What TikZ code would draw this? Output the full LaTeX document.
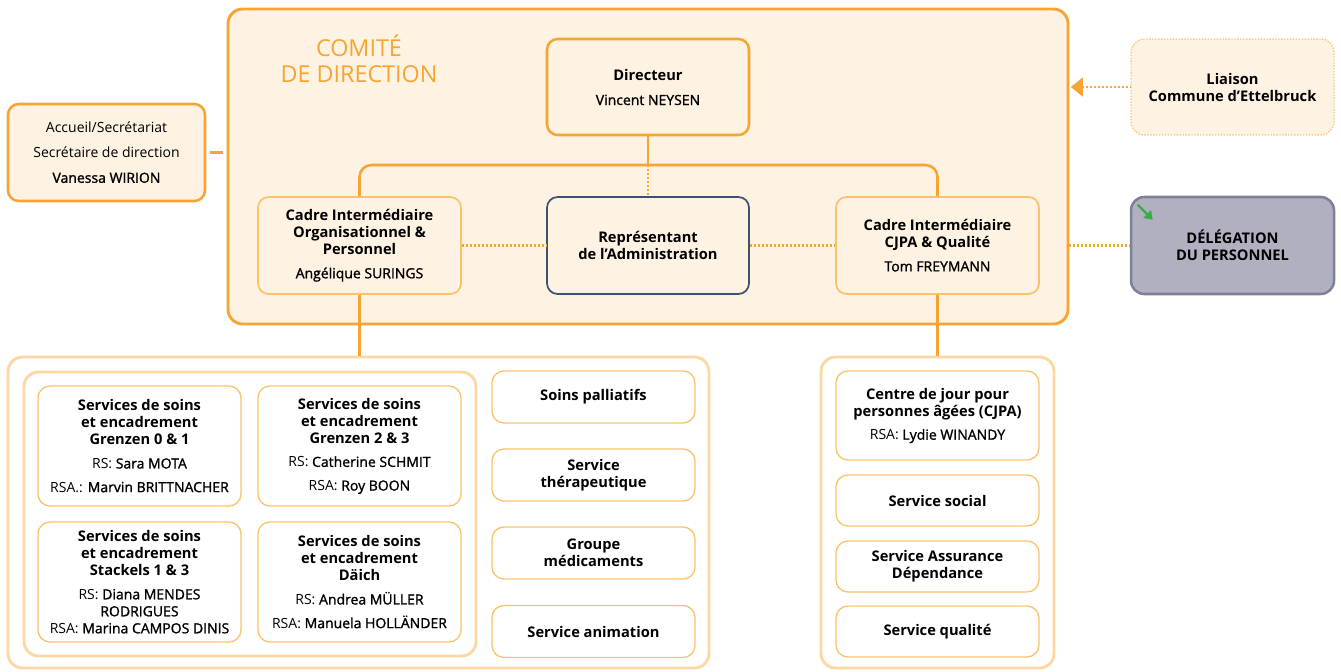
\documentclass[tikz,border=0pt]{standalone}
\usepackage{fontspec}
\setmainfont{Open Sans}
\newfontfamily\namefont{Open Sans}[FakeBold=1.3]
\usetikzlibrary{arrows.meta}

\definecolor{orgline}{HTML}{F7A532}
\definecolor{orgsoft}{HTML}{FBC26E}
\definecolor{orgpale}{HTML}{FDD8A4}
\definecolor{cream}{HTML}{FEF2E2}
\definecolor{slate}{HTML}{3F5172}
\definecolor{delegfill}{HTML}{B1B0C1}
\definecolor{delegline}{HTML}{7C8099}
\definecolor{arrowgreen}{HTML}{3BAA48}

\newcommand{\hd}[1]{{\fontsize{11}{12.75}\selectfont\bfseries #1}}

\tikzset{
  sz/.style 2 args={minimum width=#1*0.75pt,minimum height=#2*0.75pt},
  txt/.style={align=center,inner sep=0pt,text=black,font=\fontsize{10.5}{12.75}\selectfont},
  groupbox/.style={draw=orgline,line width=2.2pt,fill=cream,rounded corners=11pt},
  mainbox/.style={txt,draw=orgline,line width=1.9pt,fill=cream,rounded corners=8pt},
  cadrebox/.style={txt,draw=orgsoft,line width=1.3pt,fill=cream,rounded corners=8pt},
  repbox/.style={txt,draw=slate,line width=1.3pt,fill=cream,rounded corners=8pt},
  liaisonbox/.style={txt,draw=orgsoft,line width=1pt,dash pattern=on 1pt off 1.2pt,fill=cream,rounded corners=10pt},
  delegbox/.style={txt,draw=delegline,line width=1.9pt,fill=delegfill,rounded corners=10pt},
  outerbox/.style={draw=orgpale,line width=2.2pt,fill=white,rounded corners=11pt},
  servbox/.style={txt,draw=orgsoft,line width=1pt,fill=white,rounded corners=9pt},
  conn/.style={draw=orgline,line width=1.9pt},
  dotconn/.style={draw=orgline,line width=1.7pt,dash pattern=on 1.3pt off 1.7pt},
}

\begin{document}
\begin{tikzpicture}[x=0.75pt,y=-0.75pt]
            \useasboundingbox (0,0) rectangle (1341,671);

            \node[groupbox,sz={840}{315}] (comite) at (648,166.5) {};
            \node[align=center,inner sep=0pt,text=orgline,font=\fontsize{17.5}{19.5}\selectfont] (ctitle) at (359,59) {COMITÉ\\DE DIRECTION};

            \node[mainbox,sz={202}{96}] (dir) at (648,87) {\hd{Directeur}\\[6pt]\namefont Vincent NEYSEN};
            \node[cadrebox,sz={203}{97}] (cadreL) at (359.5,245.5) {\hd{Cadre Intermédiaire}\\\hd{Organisationnel \&}\\\hd{Personnel}\\[5pt]\namefont Angélique SURINGS};
            \node[repbox,sz={202}{97}] (rep) at (648,245.5) {\hd{Représentant}\\\hd{de l’Administration}};
            \node[cadrebox,sz={203}{97}] (cadreR) at (937.5,245.5) {\hd{Cadre Intermédiaire}\\\hd{CJPA \& Qualité}\\[5pt]\namefont Tom FREYMANN};

            \node[mainbox,sz={197}{97}] (sec) at (106.5,152.5) {Accueil/Secrétariat\\[6pt]Secrétaire de direction\\[6pt]\namefont Vanessa WIRION};
            \node[liaisonbox,sz={203}{96}] (liaison) at (1232.5,87) {\hd{Liaison}\\\hd{Commune d’Ettelbruck}};
            \node[delegbox,sz={203}{97}] (deleg) at (1232.5,245.5) {\hd{DÉLÉGATION}\\\hd{DU PERSONNEL}};
            \draw[arrowgreen,line width=1.8pt,-{Triangle[length=6pt,width=8pt]}] ([shift={(8,9)}]deleg.north west) -- ++(15,15);

            \node[outerbox,sz={701}{311}] (grpL) at (358.5,512.5) {};
            \node[outerbox,sz={452}{284}] (soins) at (250,514) {};
            \node[servbox,sz={203}{120}] (g01) at (139.5,446) {\hd{Services de soins}\\\hd{et encadrement}\\\hd{Grenzen 0 \& 1}\\[5pt]RS: {\namefont Sara MOTA}\\[5pt]RSA.: {\namefont Marvin BRITTNACHER}};
            \node[servbox,sz={203}{120}] (g23) at (359.5,446) {\hd{Services de soins}\\\hd{et encadrement}\\\hd{Grenzen 2 \& 3}\\[5pt]RS: {\namefont Catherine SCHMIT}\\[5pt]RSA: {\namefont Roy BOON}};
            \node[servbox,sz={203}{120}] (st13) at (139.5,582) {\hd{Services de soins}\\\hd{et encadrement}\\\hd{Stackels 1 \& 3}\\[5pt]RS: {\namefont Diana MENDES}\\{\namefont RODRIGUES}\\RSA: {\namefont Marina CAMPOS DINIS}};
            \node[servbox,sz={203}{120}] (daich) at (359.5,582) {\hd{Services de soins}\\\hd{et encadrement}\\\hd{Däich}\\[5pt]RS: {\namefont Andrea MÜLLER}\\[5pt]RSA: {\namefont Manuela HOLLÄNDER}};
            \node[servbox,sz={203}{52}] (pall) at (593.5,397) {\hd{Soins palliatifs}};
            \node[servbox,sz={203}{52}] (thera) at (593.5,475) {\hd{Service}\\\hd{thérapeutique}};
            \node[servbox,sz={203}{52}] (medic) at (593.5,553) {\hd{Groupe}\\\hd{médicaments}};
            \node[servbox,sz={203}{52}] (anim) at (593.5,631.5) {\hd{Service animation}};

            \node[outerbox,sz={233}{311}] (grpR) at (937.5,512.5) {};
            \node[servbox,sz={203}{89}] (cjpa) at (937.5,415.5) {\hd{Centre de jour pour}\\\hd{personnes âgées (CJPA)}\\[5pt]RSA: {\namefont Lydie WINANDY}};
            \node[servbox,sz={203}{51}] (social) at (937.5,500.5) {\hd{Service social}};
            \node[servbox,sz={203}{51}] (assur) at (937.5,566.5) {\hd{Service Assurance}\\\hd{Dépendance}};
            \node[servbox,sz={203}{51}] (qual) at (937.5,631.5) {\hd{Service qualité}};

            \coordinate (bar) at (648,165);
            \draw[conn] (dir) -- (bar);
            \draw[conn,rounded corners=9pt] (cadreL.north) |- (bar) -| (cadreR.north);
            \draw[dotconn] (bar) -- (rep);
            \draw[dotconn] (cadreL) -- (rep);
            \draw[dotconn] (rep) -- (cadreR);
            \draw[conn,shorten <=2.5pt,shorten >=3pt] (sec.east) -- (comite.west |- sec.east);
            \draw[dotconn,{Triangle[length=9pt,width=14pt]}-,shorten <=1pt] (comite.east |- liaison.west) -- (liaison.west);
            \draw[dotconn] (comite.east |- deleg.west) -- (deleg.west);
            \draw[conn] (cadreL.south) -- (cadreL.south |- grpL.north);
            \draw[conn] (cadreR.south) -- (grpR.north);

        \end{tikzpicture}
\end{document}
